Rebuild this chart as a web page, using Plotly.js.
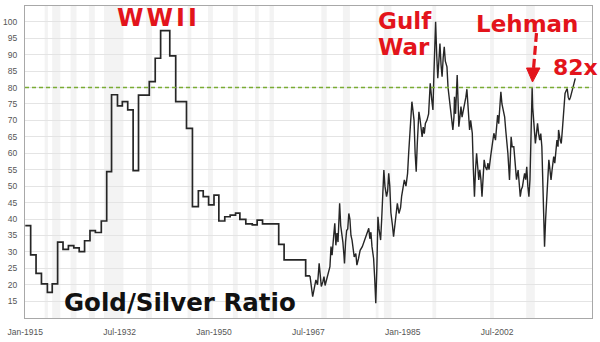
<!DOCTYPE html>
<html>
<head>
<meta charset="utf-8">
<script src="https://cdn.plot.ly/plotly-3.0.1.min.js"></script>
<style>html,body{margin:0;padding:0;background:#fff;}#chart{width:600px;height:342px;}</style>
</head>
<body>
<div id="chart"></div>
<script>
// Annual (step) part of the series: decimal year and gold/silver ratio
const annualYears = [1915,1916,1917,1918,1919.1,1920,1921,1922,1923,1924,1925,1926,1927,1928,1929.1,1930.1,1931,1932.1,1933,1934,1935,1936,1938,1939.1,1940.1,1941.8,1942.9,1944.9,1946,1947.1,1948,1949,1950,1950.9,1952,1953,1954,1954.8,1955.9,1957.1,1958,1959,1962,1963,1967,1967.8];
const annualRatio = [38.0,29.1,23.5,20.3,17.7,20.3,33.0,30.8,31.9,31.2,30.1,33.4,36.5,35.9,39.4,54.4,77.8,74.4,75.7,73.2,54.7,77.7,81.8,88.9,97.3,89.6,75.7,67.6,43.8,48.6,46.8,44.3,47.3,39.4,40.7,41.2,41.8,39.9,38.5,38.2,39.7,38.5,32.3,27.6,22.7,22.7];

// Market (free-floating) part of the series
const marketYears = [1967.8,1968.0,1968.3,1968.6,1968.9,1969.2,1969.5,1969.7,1969.9,1970.2,1970.4,1970.6,1970.9,1971.2,1971.5,1971.7,1971.9,1972.2,1972.4,1972.6,1972.8,1973.0,1973.3,1973.5,1973.7,1973.9,1974.1,1974.2,1974.4,1974.6,1974.8,1975.0,1975.2,1975.4,1975.6,1975.8,1976.0,1976.3,1976.5,1976.8,1977.1,1977.5,1977.8,1978.1,1978.4,1978.7,1978.9,1979.1,1979.3,1979.6,1979.8,1980.0,1980.2,1980.4,1980.6,1980.9,1981.1,1981.3,1981.5,1981.7,1982.0,1982.2,1982.4,1982.6,1982.8,1983.1,1983.3,1983.5,1983.8,1984.0,1984.3,1984.6,1984.8,1985.0,1985.3,1985.6,1985.9,1986.1,1986.4,1986.7,1986.9,1987.1,1987.3,1987.5,1987.7,1987.9,1988.0,1988.2,1988.4,1988.6,1988.8,1989.0,1989.2,1989.5,1989.8,1990.1,1990.4,1990.6,1990.8,1991.1,1991.3,1991.5,1991.7,1991.9,1992.1,1992.3,1992.5,1992.7,1992.9,1993.2,1993.4,1993.6,1993.8,1994.0,1994.3,1994.5,1994.6,1994.8,1995.0,1995.1,1995.3,1995.4,1995.6,1995.8,1996.0,1996.3,1996.5,1996.7,1996.9,1997.1,1997.4,1997.6,1997.9,1998.1,1998.3,1998.5,1998.7,1998.9,1999.1,1999.3,1999.5,1999.7,1999.9,2000.1,2000.3,2000.6,2000.8,2001.0,2001.3,2001.5,2001.7,2001.9,2002.2,2002.4,2002.6,2002.8,2003.0,2003.2,2003.4,2003.7,2003.9,2004.1,2004.3,2004.5,2004.8,2005.0,2005.1,2005.3,2005.6,2005.8,2005.9,2006.1,2006.4,2006.6,2006.8,2007.0,2007.2,2007.4,2007.6,2007.8,2008.0,2008.2,2008.4,2008.6,2008.7,2008.9,2009.0,2009.1,2009.3,2009.5,2009.6,2009.8,2010.0,2010.2,2010.4,2010.6,2010.8,2011.0,2011.2,2011.3,2011.5,2011.7,2011.8,2012.0,2012.1,2012.3,2012.5,2012.7,2013.0,2013.2,2013.4,2013.6,2013.8,2013.9,2014.2,2014.4,2014.6,2014.8,2015.0,2015.1,2015.3,2015.5,2015.7,2015.9,2016.1,2016.4,2016.7,2017.0];
const marketRatio = [22.7,19.5,16.4,19.0,21.5,20.0,26.5,23.0,19.5,21.0,22.5,19.8,22.0,24.0,25.5,31.6,29.0,35.0,38.7,32.0,35.7,33.0,44.8,38.0,36.0,33.0,29.0,26.5,33.0,36.5,37.0,41.7,40.0,35.0,33.6,30.0,28.5,29.5,26.0,28.0,30.5,31.6,33.0,34.5,35.5,37.2,34.0,36.0,31.6,28.0,22.0,14.4,25.0,40.7,37.0,33.6,40.0,47.0,54.9,50.0,46.8,48.5,53.9,50.0,42.0,38.0,34.6,37.5,41.0,44.8,41.7,43.5,47.0,49.0,51.9,50.0,53.9,60.0,70.0,75.7,73.0,70.0,60.0,54.4,63.0,68.0,72.6,70.5,67.1,65.0,68.0,66.0,69.1,70.1,72.0,81.3,76.0,73.2,85.0,100.0,90.0,82.8,88.0,93.4,87.0,83.3,89.0,92.4,88.0,86.3,80.0,77.0,75.2,72.0,67.1,71.0,77.2,72.0,80.0,83.8,74.0,68.1,71.0,74.2,71.0,73.2,75.0,77.0,79.5,74.0,67.1,70.0,66.1,55.0,46.8,55.0,60.0,56.0,51.9,55.0,52.0,46.8,53.0,58.0,56.0,54.9,57.0,55.0,59.0,61.0,63.0,66.1,64.0,68.0,71.6,69.0,74.0,78.7,75.0,73.0,71.1,67.1,64.0,60.0,51.9,58.0,65.0,62.0,62.0,58.0,55.9,52.0,54.9,50.0,46.8,49.0,49.8,52.0,53.9,52.0,55.9,50.0,46.8,52.0,61.0,75.0,80.0,74.0,68.1,66.0,63.0,66.0,69.1,66.0,64.0,66.0,62.0,50.0,40.0,31.6,40.0,45.0,48.8,52.0,58.0,55.0,51.9,55.0,59.0,57.0,62.0,64.0,62.0,67.1,64.0,63.0,67.0,72.1,76.0,78.2,79.0,79.7,77.0,76.2,77.0,79.2,81.0,82.8];

// Reference level
const refLevel = 80;

// Shaded periods (US recessions), decimal years
const bandStart = [1918.6,1920.0,1923.4,1926.8,1929.6,1937.4,1945.1,1948.9,1953.5,1957.6,1960.3,1969.9,1973.9,1980.0,1981.5,1990.5,2001.2,2007.9];
const bandEnd   = [1919.2,1921.5,1924.5,1927.9,1933.2,1938.5,1945.8,1949.8,1954.4,1958.3,1961.1,1970.9,1975.2,1980.5,1982.9,1991.2,2001.9,2009.5];

// Axis ticks
const xTickVals = [1915,1932.5,1950,1967.5,1985,2002.5];
const xTickText = ['Jan-1915','Jul-1932','Jan-1950','Jul-1967','Jan-1985','Jul-2002'];
const yTickVals = [15,20,25,30,35,40,45,50,55,60,65,70,75,80,85,90,95,100];

const RED = '#e3141b';
const xRange = [1914.95, 2020.1];

const traces = [
  {x: annualYears, y: annualRatio, type: 'scatter', mode: 'lines',
   line: {color: '#262626', width: 1.7, shape: 'hv'}, hoverinfo: 'skip'},
  {x: marketYears, y: marketRatio, type: 'scatter', mode: 'lines',
   line: {color: '#262626', width: 1.4}, hoverinfo: 'skip'},
  {x: xRange, y: [refLevel, refLevel], type: 'scatter', mode: 'lines',
   line: {color: '#7aac34', width: 1.4, dash: '4px,3px'}, hoverinfo: 'skip'}
];

const shapes = bandStart.map((s, i) => ({
  type: 'rect', xref: 'x', yref: 'paper', x0: s, x1: bandEnd[i], y0: 0, y1: 1,
  fillcolor: '#f3f3f3', line: {width: 0}, layer: 'below'
}));

// dashed arrow for "Lehman"
function px(p) { return (p - 25) / 567; }
function py(p) { return (318 - p) / 312; }
shapes.push({type: 'line', xref: 'paper', yref: 'paper',
  x0: px(536.5), y0: py(33), x1: px(533.5), y1: py(69),
  line: {color: RED, width: 3.2, dash: '9px,4px'}, layer: 'above'});
shapes.push({type: 'path', xref: 'paper', yref: 'paper',
  path: 'M ' + px(526.5) + ' ' + py(68) + ' L ' + px(540) + ' ' + py(68) + ' L ' + px(532.5) + ' ' + py(82) + ' Z',
  fillcolor: RED, line: {color: RED, width: 1}, layer: 'above'});

const bigFont = (c, s) => ({family: 'DejaVu Sans, Verdana, sans-serif', size: s, color: c, weight: 'bold'});

const annotations = [
  {text: '<b><span style="letter-spacing:3px">WWII</span></b>', xref: 'paper', yref: 'paper', x: px(158.5), y: py(18.5),
   xanchor: 'center', yanchor: 'middle', showarrow: false, font: bigFont(RED, 24)},
  {text: '<b>Gulf</b>', xref: 'paper', yref: 'paper', x: px(376), y: py(21),
   xanchor: 'left', yanchor: 'middle', showarrow: false, font: bigFont(RED, 23)},
  {text: '<b>War</b>', xref: 'paper', yref: 'paper', x: px(376), y: py(47.5),
   xanchor: 'left', yanchor: 'middle', showarrow: false, font: bigFont(RED, 23)},
  {text: '<b>Lehman</b>', xref: 'paper', yref: 'paper', x: px(527.5), y: py(24),
   xanchor: 'center', yanchor: 'middle', showarrow: false, font: bigFont(RED, 23)},
  {text: '<b>82x</b>', xref: 'paper', yref: 'paper', x: px(575), y: py(67),
   xanchor: 'center', yanchor: 'middle', showarrow: false, font: bigFont(RED, 22)},
  {text: '<b>Gold/Silver Ratio</b>', xref: 'paper', yref: 'paper', x: px(180), y: py(302),
   xanchor: 'center', yanchor: 'middle', showarrow: false, font: bigFont('#111111', 24.5)}
];

const layout = {
  width: 600, height: 342,
  margin: {l: 25, r: 8, t: 6, b: 24, pad: 0},
  paper_bgcolor: '#ffffff', plot_bgcolor: '#ffffff',
  showlegend: false,
  xaxis: {
    type: 'linear', range: xRange, tickmode: 'array', tickvals: xTickVals, ticktext: xTickText,
    showgrid: false, zeroline: false, showline: true, linecolor: '#a8a8a8', linewidth: 1, mirror: true,
    ticks: '', ticklabelstandoff: 6,
    tickfont: {family: 'Liberation Sans, Arial, sans-serif', size: 8.5, color: '#555555'}
  },
  yaxis: {
    type: 'linear', range: [9.9, 104.8], tickmode: 'array', tickvals: yTickVals,
    showgrid: true, gridcolor: '#e4e4e4', gridwidth: 1, zeroline: false,
    showline: true, linecolor: '#a8a8a8', linewidth: 1, mirror: true,
    ticks: '', ticklabelstandoff: 5,
    tickfont: {family: 'Liberation Sans, Arial, sans-serif', size: 8.5, color: '#555555'}
  },
  shapes: shapes,
  annotations: annotations
};

Plotly.newPlot('chart', traces, layout, {staticPlot: true, displayModeBar: false});
</script>
</body>
</html>
